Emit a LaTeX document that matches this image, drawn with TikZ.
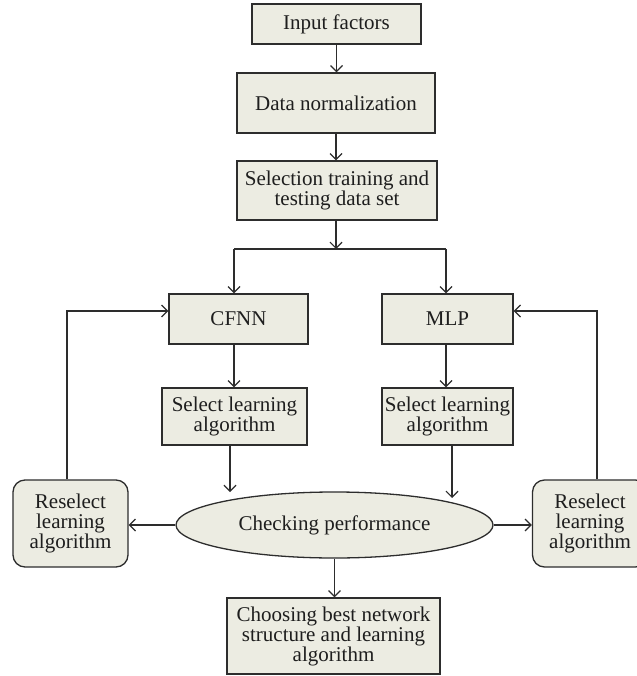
\documentclass[tikz,border=0pt]{standalone}
\usepackage{fontspec}
\setmainfont{Liberation Serif}
\usetikzlibrary{arrows.meta,shapes.geometric}
\definecolor{boxfill}{RGB}{236,236,226}
\definecolor{linecol}{RGB}{45,45,45}
\definecolor{textcol}{RGB}{30,30,30}
\begin{document}
\begin{tikzpicture}[x=1pt,y=-1pt,
  every node/.style={font=\fontsize{21}{20}\selectfont,text=textcol},
  procbox/.style={draw=linecol,fill=boxfill,line width=1.3pt,inner sep=0pt,align=center},
  roundbox/.style={procbox,rounded corners=12pt},
  ellbox/.style={draw=linecol,fill=boxfill,line width=1.3pt,ellipse,inner sep=0pt},
  conn/.style={draw=linecol,line width=1.3pt},
  arr/.style={conn,-{Straight Barb[length=6pt,width=12pt,line width=1.2pt]}}]
\useasboundingbox (0,0) rectangle (636,676);
\node[procbox,minimum width=169pt,minimum height=40pt] (in) at (336.5,24) {Input factors};
\node[procbox,minimum width=198pt,minimum height=60pt] (dn) at (336,103) {Data normalization};
\node[procbox,minimum width=200pt,minimum height=59pt] (sel) at (337,190.5) {Selection training and\\testing data set};
\node[procbox,minimum width=139pt,minimum height=50pt] (cfnn) at (238.5,319) {CFNN};
\node[procbox,minimum width=131pt,minimum height=50pt] (mlp) at (447.5,319) {MLP};
\node[procbox,minimum width=145pt,minimum height=57pt] (sl) at (234.5,416.5) {Select learning\\algorithm};
\node[procbox,minimum width=131pt,minimum height=57pt] (sr) at (447.5,416.5) {Select learning\\algorithm};
\node[ellbox,minimum width=317pt,minimum height=66pt] (chk) at (334.5,525) {Checking performance};
\node[roundbox,minimum width=115pt,minimum height=87pt] (rl) at (70.5,523.5) {Reselect\\learning\\algorithm};
\node[roundbox,minimum width=115pt,minimum height=87pt] (rr) at (590,523.5) {Reselect\\learning\\algorithm};
\node[procbox,minimum width=213pt,minimum height=76pt] (ch) at (333.5,636) {Choosing best network\\structure and learning\\algorithm};
\coordinate (bm) at (336,249);
\coordinate (bl) at (234,249);
\coordinate (bq) at (446,249);
\coordinate (el) at (230,492);
\coordinate (er) at (452,498);
\coordinate (fl) at (67,311);
\coordinate (fr) at (597,311);
\draw[arr] (in.south) -- (in.south |- dn.north);
\draw[arr] (dn.south) -- (dn.south |- sel.north);
\draw[arr] (sel.south -| bm) -- (bm);
\draw[conn] (bl) -- (bq);
\draw[arr] (bl) -- (bl |- cfnn.north);
\draw[arr] (bq) -- (bq |- mlp.north);
\draw[arr] (bl |- cfnn.south) -- (bl |- sl.north);
\draw[arr] (bq |- mlp.south) -- (bq |- sr.north);
\draw[arr] (el |- sl.south) -- (el);
\draw[arr] (er |- sr.south) -- (er);
\draw[arr] (chk.west) -- (chk.west -| rl.east);
\draw[arr] (chk.east) -- (chk.east -| rr.west);
\draw[arr] (chk.south) -- (chk.south |- ch.north);
\draw[arr] (fl |- rl.north) -- (fl) -- (fl -| cfnn.west);
\draw[arr] (fr |- rr.north) -- (fr) -- (fr -| mlp.east);
\end{tikzpicture}
\end{document}
